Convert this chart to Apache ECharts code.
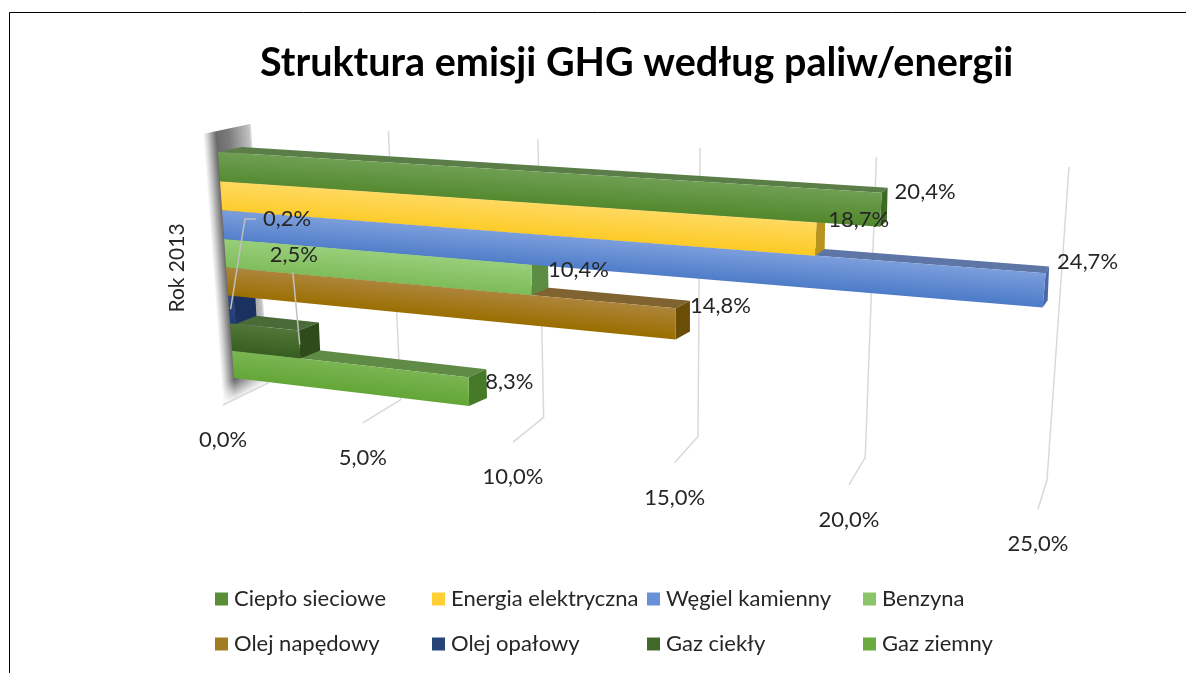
<!DOCTYPE html>
<html>
<head>
<meta charset="utf-8">
<style>
  html, body { margin: 0; padding: 0; background: #fff; }
  #chart { width: 1186px; height: 673px; }
</style>
<script src="https://cdn.jsdelivr.net/npm/echarts@6/dist/echarts.min.js"></script>
</head>
<body>
<div id="chart"></div>
<script>
const fuels = ['Ciepło sieciowe', 'Energia elektryczna', 'Węgiel kamienny', 'Benzyna', 'Olej napędowy', 'Olej opałowy', 'Gaz ciekły', 'Gaz ziemny']
const shares = [20.4, 18.7, 24.7, 10.4, 14.8, 0.2, 2.5, 8.3]
const tickValues = [0, 5, 10, 15, 20, 25]
const tickLabels = ['0,0%', '5,0%', '10,0%', '15,0%', '20,0%', '25,0%']
const axisName = 'Rok 2013'

// [legend, front top, front bottom, top face, end face]
const palette = [
  ['#5A8F38', '#6F9F53', '#53892E', '#5B7D48', '#3F6A24'],
  ['#FFCF33', '#FFD960', '#FDCB28', '#C7A032', '#B8941E'],
  ['#6A90D8', '#7C9EDC', '#4F7DC9', '#5D76A6', '#4868A8'],
  ['#8CC46A', '#98CE7A', '#7FBC5A', '#5F8C47', '#5C8C42'],
  ['#A27C22', '#AD853B', '#9B6E00', '#7F6431', '#6A4E05'],
  ['#264478', '#2A4A80', '#1E3D78', '#2D4C7C', '#1B3260'],
  ['#43682B', '#517638', '#375E20', '#4A6B38', '#2D4C19'],
  ['#6AAA40', '#7AB552', '#63A637', '#5F8B47', '#477A28']
]
// label nudges from the bar end, the two leader labels were moved by hand in the source chart
const labelNudge = [[7, -15], [3, -16], [8, -25], [0, -7], [0, -14], [8, -87], [-49, -86], [-1, -6]]
const hasLeader = [false, false, false, false, false, true, true, false]

// solve the plane -> screen homography from unit-square corners
function squareToQuad(q) {
  const [p0, p1, p2, p3] = q // (0,0) (1,0) (1,1) (0,1)
  const dx1 = p1[0] - p2[0], dx2 = p3[0] - p2[0], sx = p0[0] - p1[0] + p2[0] - p3[0]
  const dy1 = p1[1] - p2[1], dy2 = p3[1] - p2[1], sy = p0[1] - p1[1] + p2[1] - p3[1]
  const det = dx1 * dy2 - dx2 * dy1
  const g = (sx * dy2 - dx2 * sy) / det
  const h = (dx1 * sy - sx * dy1) / det
  const a = p1[0] - p0[0] + g * p1[0], b = p3[0] - p0[0] + h * p3[0], c = p0[0]
  const d = p1[1] - p0[1] + g * p1[1], e = p3[1] - p0[1] + h * p3[1], f = p0[1]
  return (u, v) => {
    const w = g * u + h * v + 1
    return [(a * u + b * v + c) / w, (d * u + e * v + f) / w]
  }
}

// u = along value axis, v = down the category axis
const frontPlane = squareToQuad([[218, 152], [1064, 204], [1040, 474], [234, 378]])
const backPlane = squareToQuad([[242, 147], [1064, 199], [1052, 466], [254, 370]])
const wallPlane = squareToQuad([[250, 124], [1069, 167], [1047, 480], [268, 383]])

// front edge of the floor, reached from the foot of the wall
function floorFront(u) {
  const b = wallPlane(u, 1)
  return [b[0] - 45 + 36 * u, b[1] + 22 + 7 * u]
}

const textColor = '#262626'
const labelFont = '22px Lato'

function unit(params, pt) {
  const cs = params.coordSys
  return [(pt[0] - cs.x) / cs.width, (pt[1] - cs.y) / cs.height]
}

function faceGradient(topA, topB, botA, botB, from, to) {
  const p0 = [(topA[0] + topB[0]) / 2, (topA[1] + topB[1]) / 2]
  const m = [(botA[0] + botB[0]) / 2, (botA[1] + botB[1]) / 2]
  const d = [topB[0] - topA[0], topB[1] - topA[1]]
  const len = Math.hypot(d[0], d[1]) || 1
  const n = [-d[1] / len, d[0] / len]
  const s = (m[0] - p0[0]) * n[0] + (m[1] - p0[1]) * n[1]
  return new echarts.graphic.LinearGradient(p0[0], p0[1], p0[0] + n[0] * s, p0[1] + n[1] * s, [
    { offset: 0, color: from },
    { offset: 1, color: to }
  ], true)
}

function poly(points, fill) {
  return { type: 'polygon', shape: { points }, style: { fill } }
}

function barCorners(params, api) {
  const c = api.coord([api.value(0), api.value(1)])
  const band = api.size([0, 1])[1]
  const cs = params.coordSys
  const u = unit(params, c)[0]
  const v0 = (c[1] - band / 2 - cs.y) / cs.height
  const v1 = (c[1] + band / 2 - cs.y) / cs.height
  return {
    fTL: frontPlane(0, v0), fTR: frontPlane(u, v0),
    fBL: frontPlane(0, v1), fBR: frontPlane(u, v1),
    bTL: backPlane(0, v0), bTR: backPlane(u, v0), bBR: backPlane(u, v1)
  }
}

function renderBar(i) {
  return (params, api) => {
    const { fTL, fTR, fBL, fBR, bTL, bTR, bBR } = barCorners(params, api)
    const [, top, bottom, topFace, endFace] = palette[i]
    return {
      type: 'group',
      children: [
        poly([fTL, fTR, bTR, bTL], topFace),
        poly([fTR, bTR, bBR, fBR], endFace),
        poly([fTL, fTR, fBR, fBL], faceGradient(fTL, fTR, fBL, fBR, top, bottom))
      ]
    }
  }
}

function renderLabel(params, api) {
  const i = params.dataIndex
  const { fTR, fBR, bTR } = barCorners(params, api)
  const nudge = labelNudge[i]
  const lx = bTR[0] + nudge[0]
  const ly = (bTR[1] + fBR[1]) / 2 + nudge[1]
  const children = []
  if (hasLeader[i]) {
    const tail = i === 5
      ? [[lx - 7, ly], [lx - 18, ly], [fTR[0] - 3, fTR[1] + 13]]
      : [[lx + 23, ly + 18], [fTR[0] + 1, fTR[1] + 14]]
    children.push({ type: 'polyline', shape: { points: tail }, style: { stroke: '#bfbfbf', lineWidth: 1.5, fill: null } })
  }
  children.push({
    type: 'text',
    style: {
      x: lx, y: ly,
      text: api.value(0).toFixed(1).replace('.', ',') + '%',
      fill: textColor, font: labelFont,
      textAlign: 'left', textVerticalAlign: 'middle'
    }
  })
  return { type: 'group', children }
}

function renderGrid(params, api) {
  const c = api.coord([api.value(0), fuels[0]])
  const u = unit(params, c)[0]
  const idx = params.dataIndex
  const a = wallPlane(u, 0), b = wallPlane(u, 1), f = floorFront(u)
  return {
    type: 'group',
    children: [
      { type: 'polyline', shape: { points: [a, b, f] }, style: { stroke: '#d9d9d9', lineWidth: 1.5, fill: null } },
      {
        type: 'text',
        style: {
          x: f[0], y: f[1] + 35,
          text: tickLabels[idx],
          fill: textColor, font: labelFont,
          textAlign: 'center', textVerticalAlign: 'middle'
        }
      }
    ]
  }
}

// gray side wall behind the bars, soft on the outer side and fading out on the floor
function renderWall(params, api) {
  const c = api.coord([0, fuels[0]])
  const u = unit(params, c)[0]
  const a = wallPlane(u, 0), b = wallPlane(u, 1), f = floorFront(u)
  const l = [a[0] - 47, a[1] + 10]
  const pts = [l, a, b, f]
  const strip = [f[0] - l[0], f[1] - l[1]]
  const len = Math.hypot(strip[0], strip[1])
  const n = [strip[1] / len, -strip[0] / len]
  const wide = 47
  const mid = [(b[0] + f[0]) / 2, (b[1] + f[1]) / 2]
  return {
    type: 'group',
    children: [
      poly(pts, new echarts.graphic.LinearGradient(l[0], l[1], l[0] + n[0] * wide, l[1] + n[1] * wide, [
        { offset: 0, color: '#ffffff' },
        { offset: 0.1, color: '#cfcfcf' },
        { offset: 0.28, color: '#6a6a6a' },
        { offset: 0.55, color: '#7c7c7c' },
        { offset: 1, color: '#c4c4c4' }
      ], true)),
      poly(pts, new echarts.graphic.LinearGradient(mid[0] - 8, mid[1] - 16, mid[0], mid[1], [
        { offset: 0, color: 'rgba(255,255,255,0)' },
        { offset: 1, color: 'rgba(255,255,255,0.95)' }
      ], true))
    ]
  }
}

const barSeries = fuels.map((name, i) => ({
  name,
  type: 'custom',
  coordinateSystem: 'cartesian2d',
  itemStyle: { color: palette[i][0] },
  data: [[shares[i], name]],
  renderItem: renderBar(i),
  encode: { x: 0, y: 1 },
  clip: false,
  silent: true
})).reverse() // lowest bar first, upper bars sit on top of it

const legendCols = [[210, 0, 4], [427, 1, 5], [642, 2, 6], [858, 3, 7]]

const chart = echarts.init(document.getElementById('chart'))
chart.setOption({
  animation: false,
  backgroundColor: '#fff',
  title: {
    text: 'Struktura emisji GHG według paliw/energii',
    left: 255,
    top: 38,
    textStyle: { color: '#000', fontFamily: 'Lato', fontWeight: 'bold', fontSize: 39.5 }
  },
  grid: { left: 218, top: 155, width: 842, height: 226 },
  xAxis: { type: 'value', min: 0, max: 25, show: false },
  yAxis: {
    type: 'category',
    inverse: true,
    data: fuels,
    name: axisName,
    nameLocation: 'middle',
    nameRotate: 90,
    nameGap: 30,
    nameTextStyle: { color: textColor, fontFamily: 'Lato', fontSize: 21 },
    axisLine: { show: false },
    axisTick: { show: false },
    axisLabel: { show: false },
    splitLine: { show: false }
  },
  legend: legendCols.map(([left, a, b]) => ({
    orient: 'vertical',
    left,
    top: 583,
    icon: 'rect',
    itemWidth: 13,
    itemHeight: 13,
    itemGap: 23,
    selectedMode: false,
    data: [fuels[a], fuels[b]],
    textStyle: { color: textColor, fontFamily: 'Lato', fontSize: 22, padding: [0, 0, 0, 1] }
  })),
  series: [
    {
      type: 'custom',
      name: 'wall',
      data: [[0, fuels[0]]],
      renderItem: renderWall,
      clip: false,
      silent: true
    },
    {
      type: 'custom',
      name: 'grid',
      data: tickValues.map(t => [t, fuels[0]]),
      renderItem: renderGrid,
      clip: false,
      silent: true
    },
    ...barSeries,
    {
      type: 'custom',
      name: 'labels',
      data: fuels.map((name, i) => [shares[i], name]),
      renderItem: renderLabel,
      clip: false,
      silent: true
    }
  ],
  graphic: [
    {
      type: 'polyline',
      shape: { points: [[9.5, 673], [9.5, 12.5], [1186, 12.5]] },
      style: { stroke: '#000', lineWidth: 1, fill: null }
    }
  ]
})
</script>
</body>
</html>
